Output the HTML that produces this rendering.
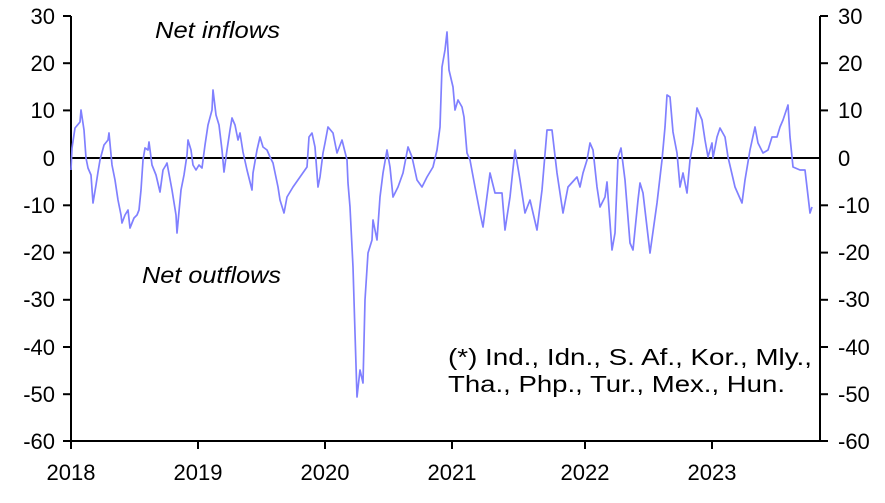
<!DOCTYPE html>
<html><head><style>
body{margin:0;background:#fff;}
svg text{font-family:"Liberation Sans",Arial,sans-serif;font-size:22px;fill:#000;}
</style></head><body>
<svg width="885" height="498" viewBox="0 0 885 498">
<g stroke="#000" stroke-width="2">
<line x1="71" y1="16" x2="71" y2="441"/>
<line x1="820" y1="16" x2="820" y2="441"/>
<line x1="71" y1="441" x2="820" y2="441"/>
<line x1="71" y1="158" x2="820" y2="158"/>
</g>
<g stroke="#000" stroke-width="2">
<line x1="63" y1="16" x2="71" y2="16"/><line x1="63" y1="63.2" x2="71" y2="63.2"/><line x1="63" y1="110.4" x2="71" y2="110.4"/><line x1="63" y1="205.3" x2="71" y2="205.3"/><line x1="63" y1="252.6" x2="71" y2="252.6"/><line x1="63" y1="299.8" x2="71" y2="299.8"/><line x1="63" y1="347" x2="71" y2="347"/><line x1="63" y1="394.2" x2="71" y2="394.2"/><line x1="63" y1="441" x2="71" y2="441"/>
<line x1="820" y1="16" x2="828" y2="16"/><line x1="820" y1="63.2" x2="828" y2="63.2"/><line x1="820" y1="110.4" x2="828" y2="110.4"/><line x1="820" y1="205.3" x2="828" y2="205.3"/><line x1="820" y1="252.6" x2="828" y2="252.6"/><line x1="820" y1="299.8" x2="828" y2="299.8"/><line x1="820" y1="347" x2="828" y2="347"/><line x1="820" y1="394.2" x2="828" y2="394.2"/><line x1="820" y1="441" x2="828" y2="441"/>
<line x1="71" y1="441" x2="71" y2="449"/><line x1="198" y1="441" x2="198" y2="449"/><line x1="325" y1="441" x2="325" y2="449"/><line x1="452" y1="441" x2="452" y2="449"/><line x1="585" y1="441" x2="585" y2="449"/><line x1="712" y1="441" x2="712" y2="449"/>
</g>
<g text-anchor="end">
<text x="55" y="24">30</text><text x="55" y="71">20</text><text x="55" y="118">10</text><text x="55" y="166">0</text><text x="55" y="213">-10</text><text x="55" y="260">-20</text><text x="55" y="307">-30</text><text x="55" y="355">-40</text><text x="55" y="402">-50</text><text x="55" y="449">-60</text>
</g>
<g text-anchor="start">
<text x="838" y="24">30</text><text x="838" y="71">20</text><text x="838" y="118">10</text><text x="838" y="166">0</text><text x="838" y="213">-10</text><text x="838" y="260">-20</text><text x="838" y="307">-30</text><text x="838" y="355">-40</text><text x="838" y="402">-50</text><text x="838" y="449">-60</text>
</g>
<g text-anchor="middle" style="font-size:24px">
<text x="71" y="480">2018</text><text x="198" y="480">2019</text><text x="325" y="480">2020</text><text x="452" y="480">2021</text><text x="585" y="480">2022</text><text x="712" y="480">2023</text>
</g>
<text x="155" y="38" font-style="italic" style="font-size:23px" textLength="125" lengthAdjust="spacingAndGlyphs">Net inflows</text>
<text x="142" y="283" font-style="italic" style="font-size:23px" textLength="139" lengthAdjust="spacingAndGlyphs">Net outflows</text>
<text x="448" y="365" style="font-size:23px" textLength="364" lengthAdjust="spacingAndGlyphs">(*) Ind., Idn., S. Af., Kor., Mly.,</text>
<text x="448" y="392" style="font-size:23px" textLength="337" lengthAdjust="spacingAndGlyphs">Tha., Php., Tur., Mex., Hun.</text>
<polyline fill="none" stroke="#8080ff" stroke-width="1.7" stroke-linejoin="round" points="
71,170 72,148 75,128 80,122 81,110 84,130 86,158 88,168 91,175 93,203 96,185 98,172 100,160 104,145 108,140 109,133 112,165 115,180 118,200 121,215 122,223 125,215 128,210 130,228 134,218 137,215 139,210 141,190 143,160 145,148 148,150 149,142 152,165 156,175 160,192 163,170 166,165 167,163 172,190 176,215 177,233 181,190 184,175 187,155 188,140 191,150 193,165 196,170 199,165 202,168 205,145 208,125 212,110 213,90 216,115 219,125 222,150 224,172 227,150 230,130 232,118 235,125 238,140 240,133 243,152 247,170 252,190 253,173 257,150 260,137 263,147 267,150 270,157 273,163 278,187 280,200 284,213 287,197 293,187 300,177 307,167 309,137 312,133 315,147 318,187 320,177 323,153 325,143 328,127 333,133 337,153 342,140 347,160 348,183 350,207 353,267 355,333 357,397 360,370 363,383 365,300 368,253 372,240 373,220 377,240 380,197 383,173 387,150 390,167 393,197 398,187 403,173 408,147 412,157 417,180 422,187 427,177 433,167 437,150 440,127 442,67 445,50 447,32 449,70 453,87 455,110 458,100 462,107 464,117 467,153 470,160 475,187 480,213 483,227 490,173 495,193 502,193 505,230 510,197 515,150 520,180 525,213 530,200 537,230 542,190 547,130 552,130 557,173 563,213 568,187 577,177 580,187 583,173 587,160 590,143 593,150 597,187 600,207 605,197 607,182 612,250 615,233 618,157 621,148 625,180 630,243 633,250 638,200 640,183 643,193 650,253 657,203 662,160 665,127 667,95 670,97 673,132 677,153 680,187 683,173 687,193 690,160 693,143 697,108 702,120 705,140 708,157 712,143 713,158 717,137 720,128 725,137 728,157 735,187 742,203 745,180 750,150 755,127 758,143 763,153 768,150 772,137 777,137 780,127 783,120 788,105 790,137 793,167 800,170 805,170 810,213 812,207"/>
</svg>
</body></html>
